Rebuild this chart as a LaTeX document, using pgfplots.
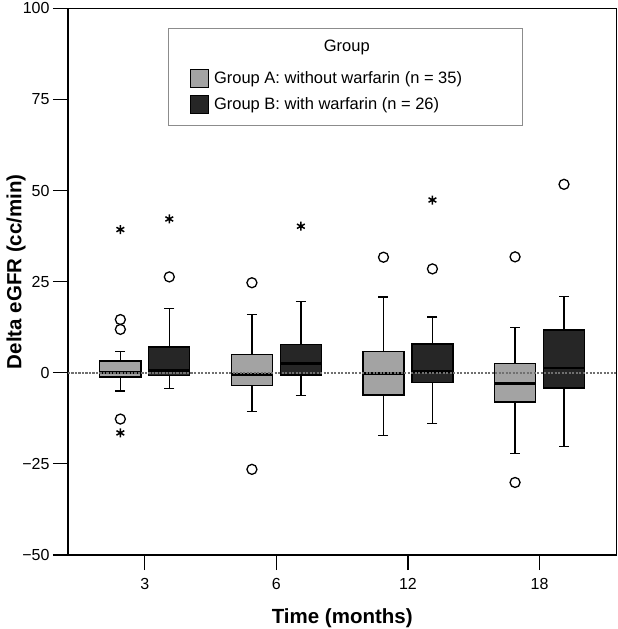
\documentclass[border=0pt]{standalone}
\usepackage{fontspec}
\setmainfont{Liberation Sans}
\usepackage{pgfplots}
\pgfplotsset{compat=1.18}
\usepgfplotslibrary{statistics}
\definecolor{grpA}{HTML}{A3A3A3}
\definecolor{grpB}{HTML}{262626}
\definecolor{zline}{HTML}{707070}
\definecolor{legframe}{HTML}{8C8C8C}
\begin{document}
\begin{tikzpicture}
\begin{axis}[
 width=548.5pt, height=546.7pt, scale only axis,
 xmin=-0.584, xmax=3.585, ymin=-50, ymax=100,
 xtick={0,1,2,3}, xticklabels={3,6,12,18},
 ytick={-50,-25,0,25,50,75,100},
 yticklabels={−50,−25,0,25,50,75,100},
 tick align=outside, major tick length=15pt,
 xtick pos=bottom, ytick pos=left,
 tick style={black, line width=1.2pt},
 axis line style={black, line width=1.3pt},
 ticklabel style={font=\fontsize{16}{19}\selectfont},
 xticklabel style={yshift=-5pt},
 xlabel={Time (months)}, ylabel={Delta eGFR (cc/min)},
 every axis x label/.style={at={(axis description cs:0.5,0)}, anchor=base, yshift=-68pt, font=\fontsize{20.5}{24}\selectfont\bfseries},
 every axis y label/.style={at={(axis description cs:0,0.5)}, anchor=center, rotate=90, yshift=52pt, xshift=10pt, font=\fontsize{20.5}{24}\selectfont\bfseries},
 boxplot/draw direction=y,
 boxplot/box extend=0.312,
 boxplot/whisker extend=0.076,
 boxplot/every median/.style={line width=2.6pt},
 clip=false,
]
% Group A boxes
\addplot[boxplot prepared={draw position=-0.186, lower whisker=-5.0, lower quartile=-1.2, median=0.0, upper quartile=3.2, upper whisker=5.9}, draw=black, fill=grpA, line width=1.3pt] coordinates {};
\addplot[boxplot prepared={draw position=0.814, lower whisker=-10.7, lower quartile=-3.4, median=-0.4, upper quartile=5.1, upper whisker=15.9}, draw=black, fill=grpA, line width=1.3pt] coordinates {};
\addplot[boxplot prepared={draw position=1.814, lower whisker=-17.2, lower quartile=-6.1, median=-0.2, upper quartile=5.8, upper whisker=20.8}, draw=black, fill=grpA, line width=1.3pt] coordinates {};
\addplot[boxplot prepared={draw position=2.814, lower whisker=-22.1, lower quartile=-8.0, median=-2.9, upper quartile=2.5, upper whisker=12.5}, draw=black, fill=grpA, line width=1.3pt] coordinates {};
% Group B boxes
\addplot[boxplot prepared={draw position=0.186, lower whisker=-4.3, lower quartile=-0.7, median=0.7, upper quartile=7.1, upper whisker=17.6}, draw=black, fill=grpB, line width=1.3pt] coordinates {};
\addplot[boxplot prepared={draw position=1.186, lower whisker=-6.2, lower quartile=-0.6, median=2.6, upper quartile=7.7, upper whisker=19.6}, draw=black, fill=grpB, line width=1.3pt] coordinates {};
\addplot[boxplot prepared={draw position=2.186, lower whisker=-13.9, lower quartile=-2.7, median=0.3, upper quartile=7.9, upper whisker=15.3}, draw=black, fill=grpB, line width=1.3pt] coordinates {};
\addplot[boxplot prepared={draw position=3.186, lower whisker=-20.3, lower quartile=-4.2, median=1.3, upper quartile=11.7, upper whisker=21.0}, draw=black, fill=grpB, line width=1.3pt] coordinates {};
% zero reference line
\addplot[zline, line width=1.5pt, dash pattern=on 2.2pt off 1.3pt] coordinates {(-0.584,0) (3.585,0)};
% outliers (circles)
\addplot[only marks, mark=o, mark size=5pt, line width=1.3pt, black] coordinates {
(-0.186,14.6) (-0.186,11.9) (-0.186,-12.7) (0.186,26.3)
(0.814,24.7) (0.814,-26.5)
(1.814,31.7) (2.186,28.5)
(2.814,31.8) (2.814,-30.1) (3.186,51.7)};
% extreme values (asterisks)
\addplot[only marks, mark=asterisk, mark size=4.5pt, line width=1.5pt, black] coordinates {
(-0.186,39.3) (-0.186,-16.5) (0.186,42.2) (1.186,40.2) (2.186,47.4)};
% legend
\node[draw=legframe, line width=1pt, fill=white, minimum width=354pt, minimum height=97pt, inner sep=0pt, anchor=north west] (leg) at (rel axis cs:0.182,0.964) {};
\node[font=\fontsize{16.5}{19}\selectfont, inner sep=0pt] at ([xshift=179pt,yshift=-19.5pt]leg.north west) {Group};
\draw[fill=grpA, draw=black, line width=1pt] ([xshift=23pt,yshift=-42pt]leg.north west) rectangle ++(18pt,-18pt);
\draw[fill=grpB, draw=black, line width=1pt] ([xshift=23pt,yshift=-68pt]leg.north west) rectangle ++(18pt,-18pt);
\node[anchor=west, inner sep=0pt, font=\fontsize{16.5}{19}\selectfont] at ([xshift=46pt,yshift=-51pt]leg.north west) {Group A: without warfarin (n = 35)};
\node[anchor=west, inner sep=0pt, font=\fontsize{16.5}{19}\selectfont] at ([xshift=46pt,yshift=-77pt]leg.north west) {Group B: with warfarin (n = 26)};
\end{axis}
\pgfresetboundingbox
\path[use as bounding box] ([xshift=-68pt,yshift=-74pt]current axis.south west) rectangle ([xshift=1pt,yshift=8.3pt]current axis.north east);
\end{tikzpicture}
\end{document}
